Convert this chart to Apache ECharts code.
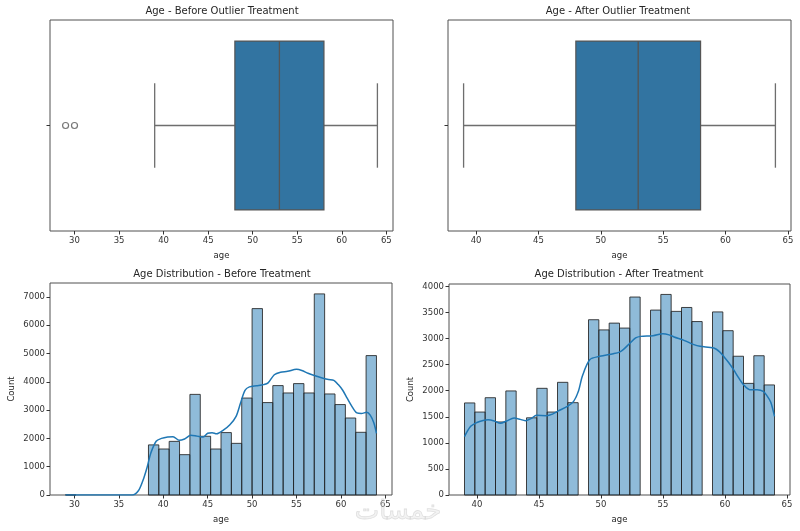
<!DOCTYPE html>
<html><head><meta charset="utf-8">
<script src="https://cdn.jsdelivr.net/npm/echarts@6/dist/echarts.min.js"></script>
<style>html,body{margin:0;padding:0;background:#fff}#c{width:800px;height:531px}</style>
</head><body><div id="c"></div>
<script>
// ---- data ----
const boxBefore = [39, 48, 53, 58, 64];      // min, q1, median, q3, max
const outliersBefore = [29, 30];
const boxAfter = [39, 48, 53, 58, 64];
const histBeforeRange = [29, 64];
const histAfterRange = [39, 64];
const binCount = 30;
const countsBefore = [4,0,0,0,0,0,0,0,1770,1625,1895,1425,3555,2075,1625,2205,1825,3425,6585,3265,3865,3605,3935,3605,7105,3570,3195,2720,2215,4925];
const countsAfter = [1765,1590,1865,1400,1995,0,1480,2045,1590,2160,1770,0,3360,3165,3295,3200,3795,0,3545,3845,3520,3595,3325,0,3510,3150,2660,2140,2670,2110];
const kdeBefore = [[29,0],[33,0],[36.5,0],[37.2,150],[37.7,500],[38.2,1000],[38.6,1480],[39.2,1900],[39.8,2000],[40.5,2050],[41.1,2060],[41.8,1930],[42.4,1980],[43.1,2110],[43.8,2080],[44.5,2050],[45,2180],[45.5,2200],[46,2160],[46.8,2300],[47.5,2480],[48.2,2780],[48.7,3250],[49.2,3700],[49.7,3820],[50.5,3860],[51.3,3900],[51.8,3960],[52.5,4250],[53.2,4340],[54,4370],[55,4440],[55.6,4400],[56.3,4300],[57,4220],[57.8,4140],[58.6,4080],[59.2,4050],[59.7,3900],[60.2,3700],[60.7,3420],[61.2,3150],[61.8,2900],[62.3,2880],[62.9,2920],[63.3,2820],[63.7,2550],[64,2180]];
const kdeAfter = [[39,1120],[39.5,1316],[40,1390],[40.5,1430],[40.9,1444],[41.4,1420],[41.9,1375],[42.4,1420],[43,1476],[43.5,1450],[43.9,1425],[44.4,1470],[44.8,1527],[45.6,1521],[46.1,1550],[46.5,1604],[47.3,1700],[47.8,1796],[48.2,2000],[48.5,2275],[49.1,2594],[49.9,2658],[51,2709],[51.5,2740],[51.8,2786],[52.3,2900],[52.8,3010],[53.2,3041],[54.2,3054],[55,3093],[55.5,3070],[55.9,3029],[56.7,2965],[57.5,2882],[58,2850],[59.1,2818],[59.6,2740],[59.9,2658],[60.3,2540],[60.7,2403],[61.1,2250],[61.5,2115],[62,2019],[62.6,2019],[63.1,1987],[63.4,1900],[63.7,1780],[64,1508]];
const ageTicksBefore = [30,35,40,45,50,55,60,65];
const ageTicksAfter = [40,45,50,55,60,65];
const countTicksBefore = [0,1000,2000,3000,4000,5000,6000,7000];
const countTicksAfter = [0,500,1000,1500,2000,2500,3000,3500,4000];
const titles = ['Age - Before Outlier Treatment','Age - After Outlier Treatment','Age Distribution - Before Treatment','Age Distribution - After Treatment'];

// ---- helpers ----
const FONT = 'DejaVu Sans';
const LINE = '#555555';
function bins(range, counts){
  const w = (range[1]-range[0])/binCount;
  return counts.map((c,i)=>[range[0]+i*w, range[0]+(i+1)*w, c]);
}
function histRender(params, api){
  const c = api.value(2);
  if (!c) return;
  const p0 = api.coord([api.value(0), c]);
  const p1 = api.coord([api.value(1), 0]);
  return {type:'rect', shape:{x:p0[0], y:p0[1], width:p1[0]-p0[0], height:p1[1]-p0[1]},
    style:{fill:'rgba(31,119,180,0.5)', stroke:'rgba(35,35,35,0.85)', lineWidth:1}};
}
function boxRender(params, api){
  const v = [0,1,2,3,4].map(i=>api.value(i));
  const yc = api.coord([v[0], 0])[1];
  const band = api.size([0,1])[1];
  const hb = band*0.4, hc = band*0.2;
  const x = v.map(t=>api.coord([t,0])[0]);
  const ln = (x1,y1,x2,y2,c)=>({type:'line', shape:{x1,y1,x2,y2}, style:{stroke:c||'#6e6e6e', lineWidth:1.3}});
  return {type:'group', children:[
    ln(x[0],yc,x[1],yc), ln(x[3],yc,x[4],yc),
    ln(x[0],yc-hc,x[0],yc+hc), ln(x[4],yc-hc,x[4],yc+hc),
    {type:'rect', shape:{x:x[1], y:yc-hb, width:x[3]-x[1], height:2*hb}, style:{fill:'#3274a1', stroke:LINE, lineWidth:1.2}},
    ln(x[2],yc-hb,x[2],yc+hb,LINE)
  ]};
}
const plain = v => String(v);
const txt = {fontSize:8.5, color:'#333', fontFamily:FONT};
function xAx(gi, min, max, ticks){
  return {type:'value', gridIndex:gi, min, max, name:'age', nameLocation:'middle', nameGap:20,
    nameTextStyle:{fontSize:8.5, color:'#262626', fontFamily:FONT},
    axisLine:{show:false}, splitLine:{show:false},
    axisTick:{show:true, length:3.5, customValues:ticks, lineStyle:{color:'#333'}},
    axisLabel:Object.assign({customValues:ticks, margin:5, formatter:plain}, txt)};
}
function yCount(gi, max, ticks){
  return {type:'value', gridIndex:gi, min:0, max, name:'Count', nameLocation:'middle', nameGap:34,
    nameTextStyle:{fontSize:8.5, color:'#262626', fontFamily:FONT},
    axisLine:{show:false}, splitLine:{show:false},
    axisTick:{show:true, length:3.5, customValues:ticks, lineStyle:{color:'#333'}},
    axisLabel:Object.assign({customValues:ticks, margin:5, formatter:plain}, txt)};
}
function yBox(gi){
  return {type:'category', gridIndex:gi, data:[''], axisLine:{show:false},
    axisTick:{show:true, alignWithLabel:true, length:3.5, lineStyle:{color:'#333'}},
    axisLabel:{show:false}, splitLine:{show:false}};
}
const gridStyle = {show:true, borderColor:'#505050', borderWidth:1, backgroundColor:'transparent', containLabel:false};
const titlePos = [[222,11],[618,11],[222,274],[619,274]];

const chart = echarts.init(document.getElementById('c'), null, {renderer:'canvas'});
chart.setOption({
  animation:false,
  backgroundColor:'#fff',
  grid:[
    Object.assign({left:50, top:20, width:343, height:211}, gridStyle),
    Object.assign({left:448, top:20, width:343, height:211}, gridStyle),
    Object.assign({left:50, top:283, width:342, height:212}, gridStyle),
    Object.assign({left:449, top:284, width:341, height:211}, gridStyle)
  ],
  xAxis:[
    xAx(0, 27.25, 65.75, ageTicksBefore),
    xAx(1, 37.75, 65.25, ageTicksAfter),
    xAx(2, 27.25, 65.75, ageTicksBefore),
    xAx(3, 37.75, 65.25, ageTicksAfter)
  ],
  yAxis:[
    yBox(0), yBox(1),
    yCount(2, 7490, countTicksBefore),
    yCount(3, 4045, countTicksAfter)
  ],
  graphic: titlePos.map((p,i)=>({type:'text', x:p[0], y:p[1],
      style:{text:titles[i], align:'center', verticalAlign:'middle', font:'10px "DejaVu Sans"', fill:'#262626'}}))
    .concat([{type:'text', x:398, y:512, z:100,
      style:{text:'خمسات', align:'center', verticalAlign:'middle', font:'26px "DejaVu Sans"', fill:'rgba(220,220,220,0.35)', stroke:'rgba(205,205,205,0.6)', lineWidth:0.8}}]),
  series:[
    {type:'custom', xAxisIndex:0, yAxisIndex:0, renderItem:boxRender, encode:{x:[0,1,2,3,4], y:5}, data:[boxBefore.concat([0])]},
    {type:'scatter', xAxisIndex:0, yAxisIndex:0, symbol:'circle', symbolSize:6,
      itemStyle:{color:'rgba(255,255,255,0)', borderColor:LINE, borderWidth:1.2},
      data:outliersBefore.map(v=>[v,0])},
    {type:'custom', xAxisIndex:1, yAxisIndex:1, renderItem:boxRender, encode:{x:[0,1,2,3,4], y:5}, data:[boxAfter.concat([0])]},
    {type:'custom', xAxisIndex:2, yAxisIndex:2, renderItem:histRender, encode:{x:[0,1], y:2}, data:bins(histBeforeRange, countsBefore)},
    {type:'line', xAxisIndex:2, yAxisIndex:2, z:5, data:kdeBefore, smooth:0.3, showSymbol:false, symbol:'none',
      lineStyle:{color:'#1f77b4', width:1.5}},
    {type:'custom', xAxisIndex:3, yAxisIndex:3, renderItem:histRender, encode:{x:[0,1], y:2}, data:bins(histAfterRange, countsAfter)},
    {type:'line', xAxisIndex:3, yAxisIndex:3, z:5, data:kdeAfter, smooth:0.3, showSymbol:false, symbol:'none',
      lineStyle:{color:'#1f77b4', width:1.5}}
  ]
});
</script>
</body></html>
